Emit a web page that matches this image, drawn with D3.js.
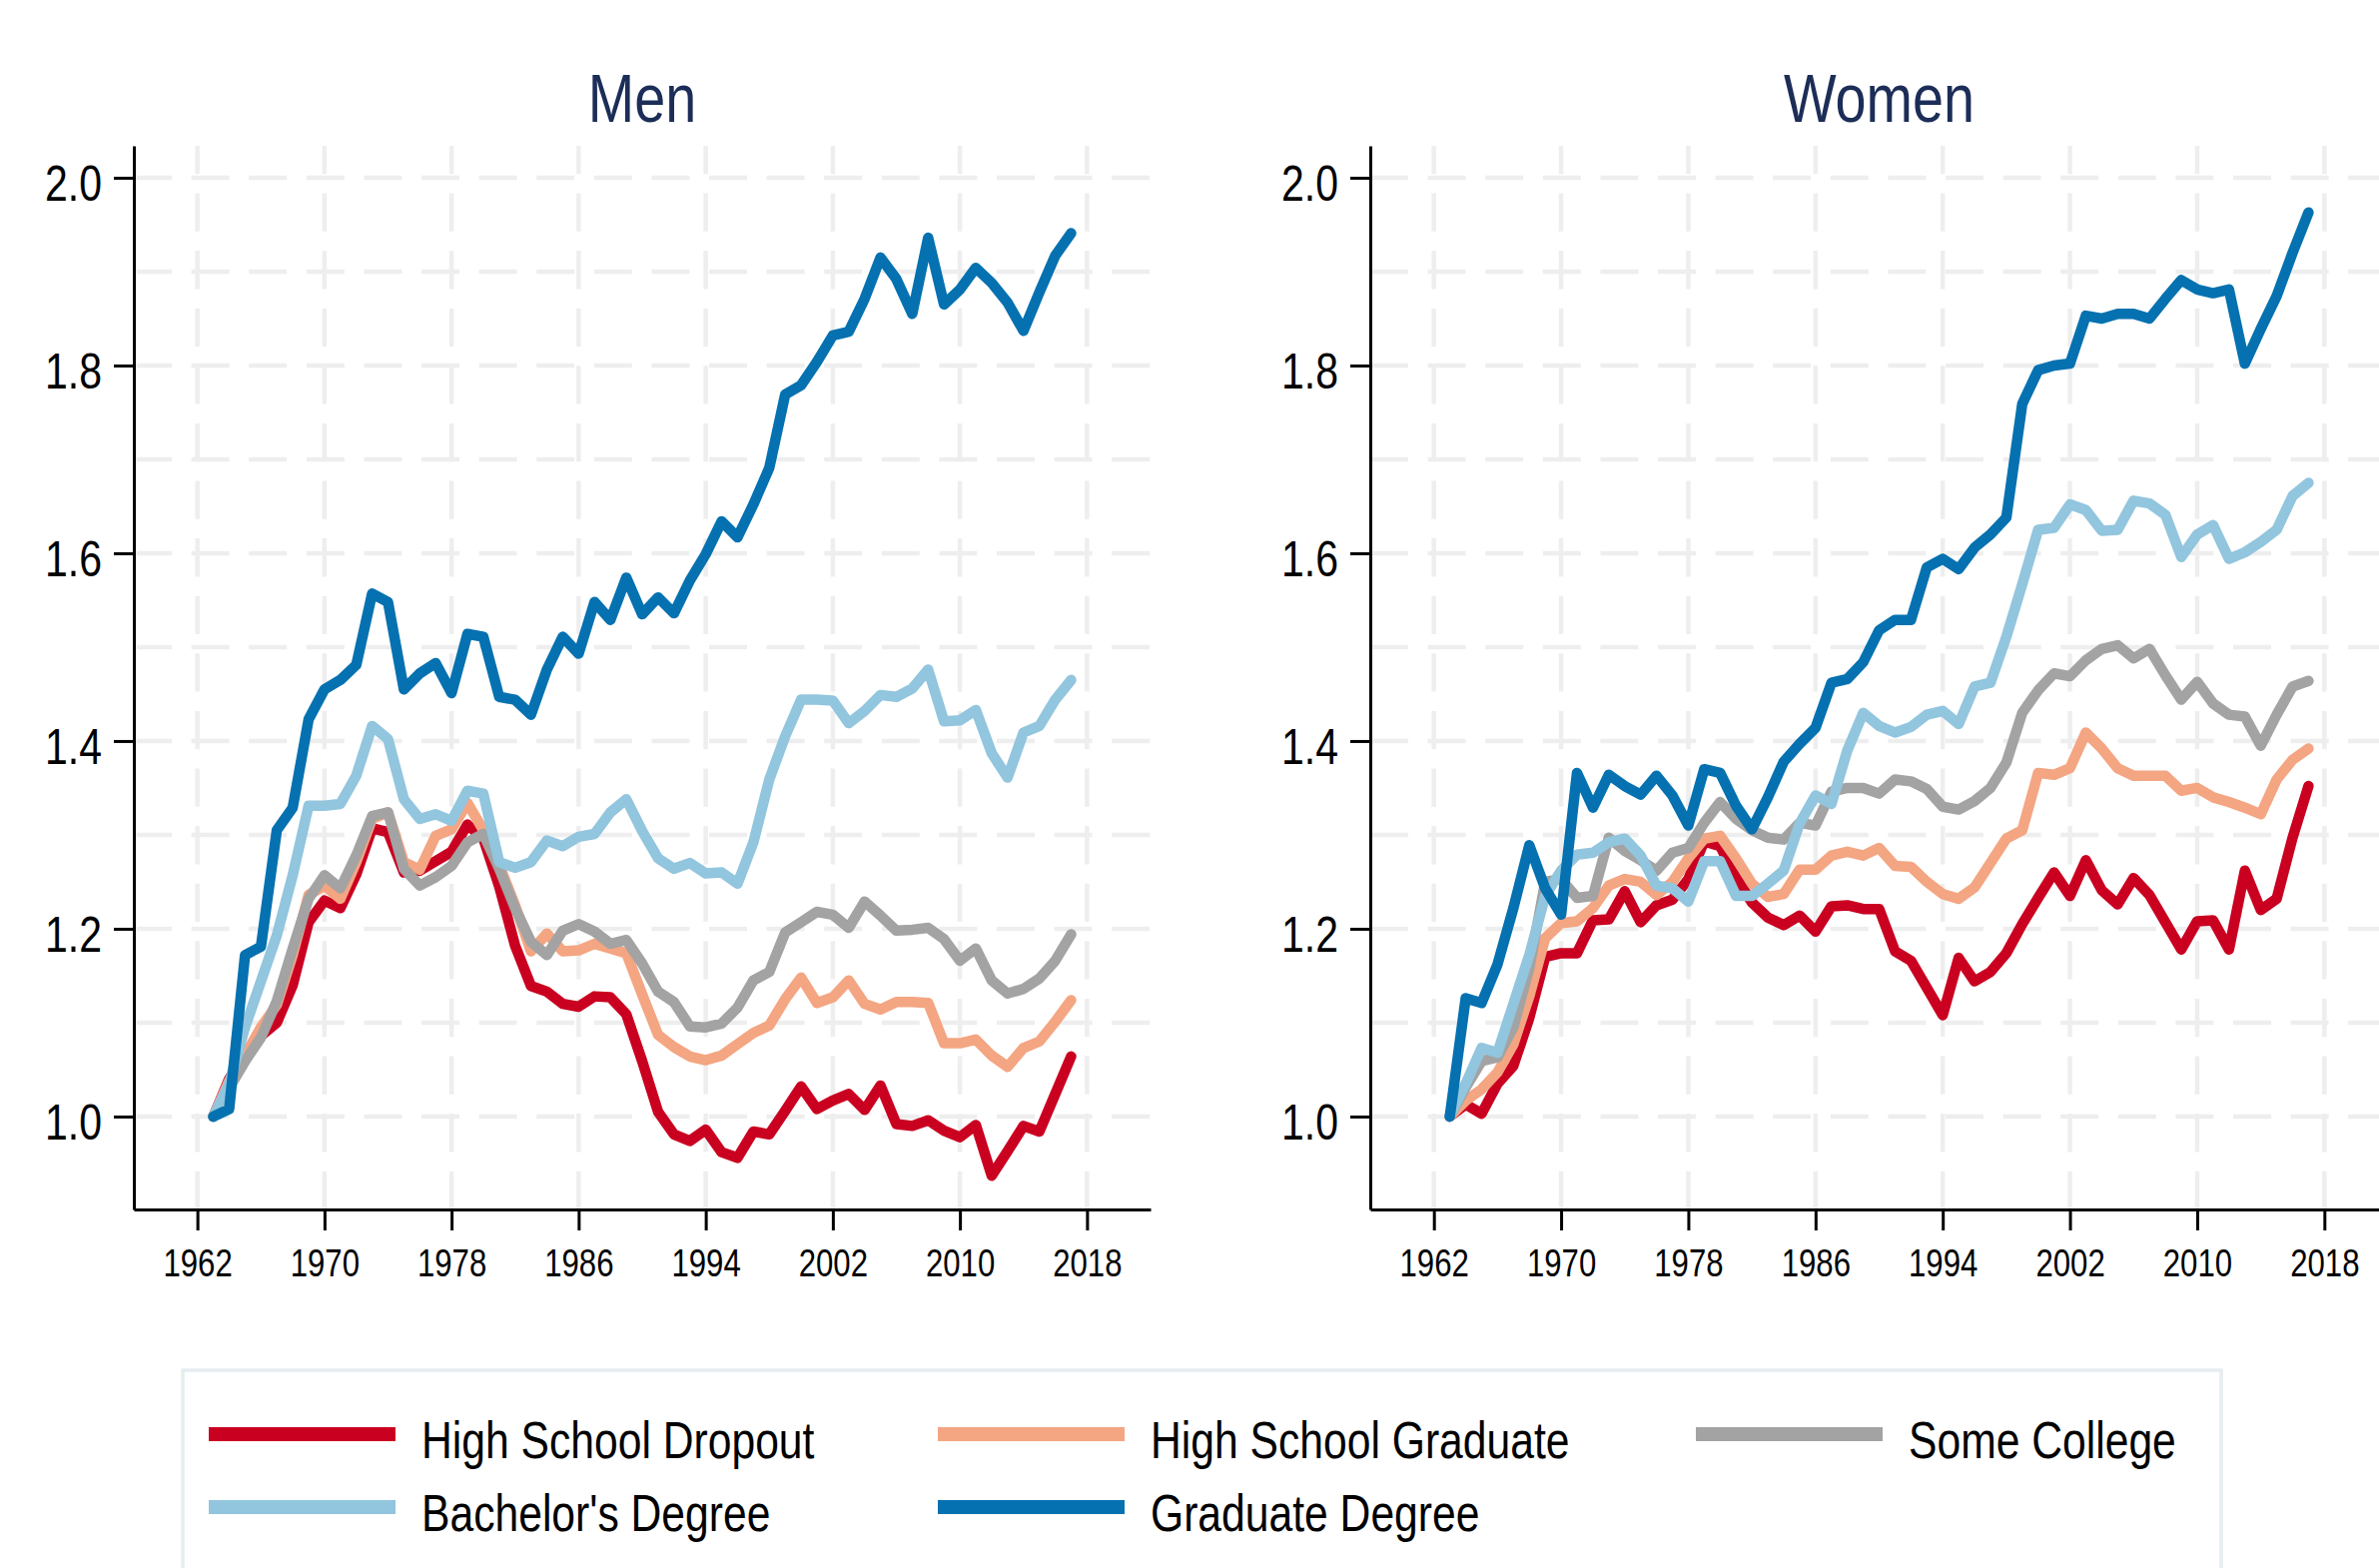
<!DOCTYPE html>
<html>
<head>
<meta charset="utf-8">
<script src="https://cdn.jsdelivr.net/npm/d3@7"></script>
<style>
  body { margin: 0; background: #fff; }
  svg text { font-family: "Liberation Sans", Arimo, Arial, sans-serif; }
</style>
</head>
<body>
<div id="chart"></div>
<script>
// ---- data ----
var years = [1963, 1964, 1965, 1966, 1967, 1968, 1969, 1970, 1971, 1972, 1973, 1974, 1975, 1976, 1977, 1978, 1979,
  1980, 1981, 1982, 1983, 1984, 1985, 1986, 1987, 1988, 1989, 1990, 1991, 1992, 1993, 1994, 1995, 1996, 1997, 1998,
  1999, 2000, 2001, 2002, 2003, 2004, 2005, 2006, 2007, 2008, 2009, 2010, 2011, 2012, 2013, 2014, 2015, 2016, 2017];

var seriesNames = ["High School Dropout", "High School Graduate", "Some College", "Bachelor's Degree", "Graduate Degree"];
var seriesColors = ["#ca0020", "#f4a582", "#a3a3a3", "#92c5de", "#0571b0"];

var menDropout = [1.000, 1.040, 1.068, 1.086, 1.100, 1.140, 1.207, 1.230, 1.222, 1.258, 1.307, 1.303, 1.260, 1.262,
  1.272, 1.282, 1.311, 1.296, 1.245, 1.182, 1.139, 1.133, 1.120, 1.117, 1.128, 1.127, 1.109, 1.059, 1.005, 0.981,
  0.974, 0.986, 0.962, 0.956, 0.984, 0.981, 1.006, 1.032, 1.008, 1.017, 1.024, 1.007, 1.033, 0.992, 0.990, 0.996,
  0.985, 0.978, 0.991, 0.937, 0.963, 0.990, 0.984, 1.024, 1.064];
var menHSGrad = [1.000, 1.038, 1.065, 1.095, 1.119, 1.172, 1.236, 1.246, 1.232, 1.271, 1.317, 1.324, 1.271, 1.263,
  1.299, 1.306, 1.334, 1.305, 1.268, 1.225, 1.176, 1.195, 1.176, 1.177, 1.184, 1.179, 1.174, 1.130, 1.087, 1.074,
  1.064, 1.060, 1.065, 1.077, 1.089, 1.097, 1.125, 1.148, 1.121, 1.127, 1.145, 1.120, 1.114, 1.122, 1.122, 1.121,
  1.078, 1.078, 1.082, 1.065, 1.053, 1.073, 1.080, 1.101, 1.124];
var menSomeCollege = [1.000, 1.030, 1.059, 1.084, 1.123, 1.179, 1.232, 1.257, 1.243, 1.278, 1.320, 1.324, 1.264, 1.246,
  1.255, 1.267, 1.292, 1.301, 1.264, 1.222, 1.186, 1.172, 1.198, 1.205, 1.197, 1.184, 1.188, 1.163, 1.133, 1.122,
  1.096, 1.095, 1.099, 1.116, 1.145, 1.154, 1.196, 1.207, 1.218, 1.215, 1.201, 1.229, 1.214, 1.198, 1.199, 1.201,
  1.189, 1.166, 1.179, 1.145, 1.131, 1.136, 1.147, 1.166, 1.194];
var menBachelor = [1.000, 1.035, 1.095, 1.144, 1.193, 1.257, 1.331, 1.331, 1.333, 1.363, 1.416, 1.402, 1.338, 1.317,
  1.322, 1.315, 1.347, 1.344, 1.271, 1.265, 1.271, 1.294, 1.288, 1.298, 1.301, 1.324, 1.338, 1.304, 1.275, 1.264,
  1.270, 1.259, 1.260, 1.248, 1.292, 1.359, 1.405, 1.444, 1.444, 1.443, 1.419, 1.432, 1.449, 1.447, 1.456, 1.476,
  1.421, 1.422, 1.433, 1.387, 1.361, 1.409, 1.416, 1.444, 1.465];
var menGraduate = [1.000, 1.008, 1.172, 1.181, 1.305, 1.329, 1.423, 1.455, 1.465, 1.481, 1.557, 1.548, 1.455, 1.472,
  1.483, 1.451, 1.514, 1.511, 1.447, 1.444, 1.428, 1.476, 1.511, 1.493, 1.548, 1.529, 1.574, 1.535, 1.553, 1.536,
  1.571, 1.599, 1.634, 1.617, 1.652, 1.691, 1.769, 1.779, 1.804, 1.832, 1.836, 1.871, 1.915, 1.892, 1.855, 1.936,
  1.865, 1.881, 1.904, 1.888, 1.867, 1.837, 1.878, 1.917, 1.941];

var womenDropout = [1.000, 1.013, 1.003, 1.035, 1.054, 1.105, 1.170, 1.174, 1.174, 1.209, 1.210, 1.240, 1.207, 1.225,
  1.231, 1.253, 1.293, 1.288, 1.255, 1.228, 1.212, 1.204, 1.214, 1.197, 1.224, 1.225, 1.221, 1.221, 1.176, 1.166,
  1.137, 1.108, 1.169, 1.144, 1.154, 1.174, 1.205, 1.233, 1.260, 1.235, 1.273, 1.241, 1.226, 1.254, 1.236, 1.207,
  1.178, 1.208, 1.209, 1.178, 1.262, 1.220, 1.232, 1.297, 1.352];
var womenHSGrad = [1.000, 1.017, 1.029, 1.047, 1.077, 1.128, 1.190, 1.206, 1.208, 1.222, 1.246, 1.253, 1.250, 1.236,
  1.250, 1.275, 1.296, 1.299, 1.275, 1.248, 1.234, 1.237, 1.263, 1.263, 1.278, 1.282, 1.278, 1.286, 1.267, 1.266,
  1.250, 1.237, 1.232, 1.244, 1.270, 1.296, 1.305, 1.366, 1.364, 1.371, 1.409, 1.392, 1.371, 1.363, 1.363, 1.363,
  1.347, 1.350, 1.340, 1.335, 1.329, 1.322, 1.359, 1.380, 1.392];
var womenSomeCollege = [1.000, 1.031, 1.059, 1.063, 1.095, 1.158, 1.250, 1.253, 1.233, 1.235, 1.297, 1.283, 1.273,
  1.262, 1.281, 1.286, 1.313, 1.335, 1.317, 1.305, 1.297, 1.295, 1.313, 1.310, 1.346, 1.350, 1.350, 1.344, 1.359,
  1.357, 1.349, 1.330, 1.327, 1.336, 1.350, 1.377, 1.430, 1.454, 1.472, 1.469, 1.486, 1.498, 1.502, 1.488, 1.498,
  1.470, 1.444, 1.463, 1.440, 1.428, 1.426, 1.395, 1.428, 1.458, 1.464];
var womenBachelor = [1.000, 1.035, 1.073, 1.068, 1.120, 1.172, 1.235, 1.262, 1.279, 1.281, 1.292, 1.296, 1.278, 1.246,
  1.243, 1.229, 1.272, 1.272, 1.235, 1.235, 1.248, 1.262, 1.312, 1.342, 1.333, 1.390, 1.430, 1.416, 1.409, 1.415,
  1.428, 1.432, 1.418, 1.458, 1.462, 1.511, 1.567, 1.625, 1.627, 1.652, 1.646, 1.624, 1.625, 1.656, 1.653, 1.641,
  1.596, 1.620, 1.630, 1.594, 1.601, 1.612, 1.625, 1.661, 1.675];
var womenGraduate = [1.000, 1.126, 1.121, 1.162, 1.222, 1.289, 1.243, 1.215, 1.366, 1.329, 1.364, 1.352, 1.343, 1.363,
  1.342, 1.310, 1.370, 1.366, 1.331, 1.306, 1.340, 1.378, 1.397, 1.414, 1.462, 1.466, 1.484, 1.518, 1.529, 1.529,
  1.585, 1.594, 1.583, 1.606, 1.620, 1.638, 1.759, 1.795, 1.800, 1.802, 1.853, 1.850, 1.855, 1.855, 1.850, 1.871,
  1.891, 1.881, 1.877, 1.881, 1.802, 1.839, 1.874, 1.920, 1.963];

var xTicks = [1962, 1970, 1978, 1986, 1994, 2002, 2010, 2018];
var yTicks = [1.0, 1.2, 1.4, 1.6, 1.8, 2.0];
var yGrid = [1.0, 1.1, 1.2, 1.3, 1.4, 1.5, 1.6, 1.7, 1.8, 1.9, 2.0];

// ---- layout ----
var width = 2382;
var height = 1570;
var plotTop = 146;
var plotBottom = 1211;
var lineWidth = 10.5;
var narrow = 0.82;   // no narrow font installed, squeeze Liberation Sans instead

var panels = [
  {title: "Men", left: 134, right: 1152,
    series: [menDropout, menHSGrad, menSomeCollege, menBachelor, menGraduate]},
  {title: "Women", left: 1372, right: 2391,
    series: [womenDropout, womenHSGrad, womenSomeCollege, womenBachelor, womenGraduate]}
];

// squeeze text horizontally around its own x anchor
function squeeze(sel) {
  sel.each(function () {
    var t = d3.select(this);
    var x = +t.attr("x") || 0;
    t.attr("transform", `translate(${x},0) scale(${narrow},1) translate(${-x},0)`);
  });
}

var svg = d3.select("#chart").append("svg")
  .attr("width", width)
  .attr("height", height)
  .style("display", "block");

var yScale = d3.scaleLinear()
  .domain([0.901, 2.034])
  .range([plotBottom, plotTop]);

panels.forEach(function (p) {
  var xScale = d3.scaleLinear()
    .domain([1958, 2022])
    .range([p.left, p.right]);

  var g = svg.append("g");

  /* dashed grid */
  g.append("g").selectAll("line")
    .data(yGrid).enter()
    .append("line")
    .attr("x1", p.left).attr("x2", p.right)
    .attr("y1", d => yScale(d)).attr("y2", d => yScale(d))
    .attr("stroke", "#eeeeee")
    .attr("stroke-width", 4.5)
    .attr("stroke-dasharray", "38 19.6");

  g.append("g").selectAll("line")
    .data(xTicks).enter()
    .append("line")
    .attr("x1", d => xScale(d)).attr("x2", d => xScale(d))
    .attr("y1", plotBottom).attr("y2", plotTop)
    .attr("stroke", "#eeeeee")
    .attr("stroke-width", 4.5)
    .attr("stroke-dasharray", "38.3 19.3");

  /* axes */
  var yAxis = d3.axisLeft(yScale)
    .tickValues(yTicks)
    .tickFormat(d3.format(".1f"))
    .tickSize(20)
    .tickSizeOuter(0)
    .tickPadding(12);

  var xAxis = d3.axisBottom(xScale)
    .tickValues(xTicks)
    .tickFormat(d3.format("d"))
    .tickSize(21)
    .tickSizeOuter(0)
    .tickPadding(19);

  var ya = g.append("g")
    .attr("transform", `translate(${p.left},0)`)
    .call(yAxis);
  ya.selectAll("text").attr("dy", "0.46em").style("font-size", "50px").attr("fill", "#000").call(squeeze);

  var xa = g.append("g")
    .attr("transform", `translate(0,${plotBottom})`)
    .call(xAxis);
  xa.selectAll("text").style("font-size", "38px").attr("fill", "#000").call(squeeze);

  [ya, xa].forEach(function (a) {
    a.select(".domain").attr("stroke", "#000").attr("stroke-width", 3);
    a.selectAll(".tick line").attr("stroke", "#000").attr("stroke-width", 3);
  });

  /* lines */
  var line = d3.line()
    .x((d, i) => xScale(years[i]))
    .y(d => yScale(d));

  g.append("g").selectAll("path")
    .data(p.series).enter()
    .append("path")
    .attr("d", d => line(d))
    .attr("fill", "none")
    .attr("stroke", (d, i) => seriesColors[i])
    .attr("stroke-width", lineWidth)
    .attr("stroke-linejoin", "round")
    .attr("stroke-linecap", "round");

  /* panel title */
  g.append("text")
    .attr("x", (p.left + p.right) / 2)
    .attr("y", 122)
    .attr("text-anchor", "middle")
    .attr("fill", "#1c2d57")
    .style("font-size", "68px")
    .text(p.title)
    .call(squeeze);
});

/* legend */
var legend = svg.append("g");

legend.append("rect")
  .attr("x", 183).attr("y", 1372)
  .attr("width", 2041).attr("height", 300)
  .attr("fill", "#fff")
  .attr("stroke", "#e6edf0")
  .attr("stroke-width", 3.5);

var colX = [209, 939, 1698];
var rowY = [1436, 1509];

var items = legend.selectAll(".item")
  .data(seriesNames).enter()
  .append("g")
  .attr("class", "item")
  .attr("transform", (d, i) => `translate(${colX[i % 3]},${rowY[Math.floor(i / 3)]})`);

items.append("rect")
  .attr("x", 0).attr("y", -7)
  .attr("width", 187).attr("height", 14)
  .attr("fill", (d, i) => seriesColors[i]);

items.append("text")
  .attr("x", 213).attr("y", 24)
  .attr("fill", "#000")
  .style("font-size", "52px")
  .text(d => d)
  .call(squeeze);
</script>
</body>
</html>
